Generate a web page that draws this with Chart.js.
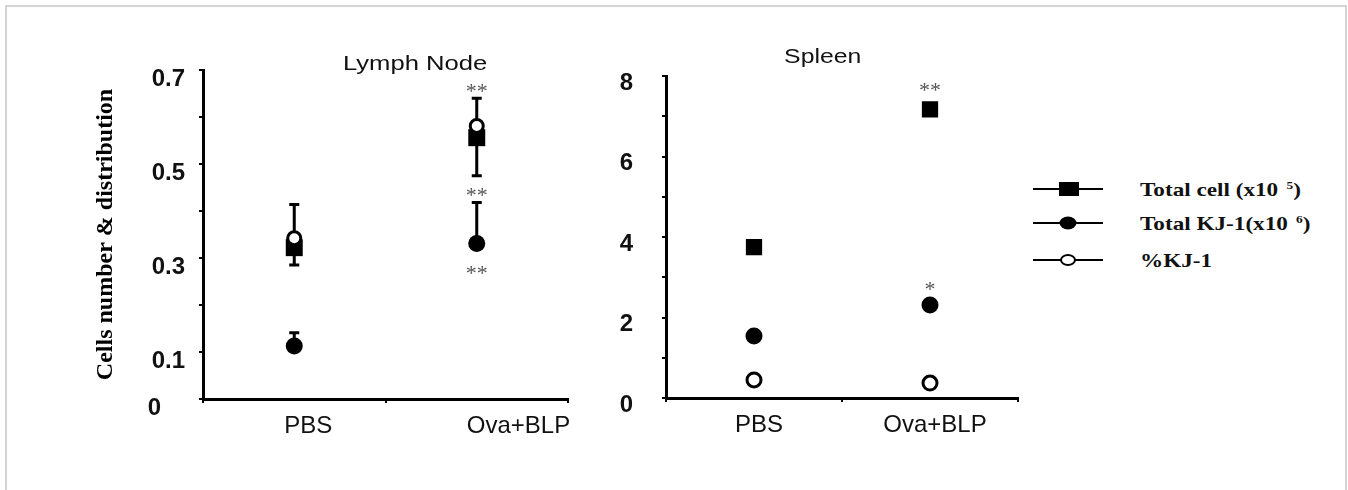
<!DOCTYPE html>
<html><head><meta charset="utf-8">
<script src="https://cdn.jsdelivr.net/npm/chart.js@4.4.1/dist/chart.umd.min.js"></script>
<style>
html,body{margin:0;padding:0;background:#fff;width:1348px;height:490px;overflow:hidden;position:relative;}
#frame{position:absolute;left:5px;top:5px;width:1342px;height:520px;border:2px solid #d4d4d4;border-bottom:none;box-sizing:border-box;}
canvas{position:absolute;top:0;}
#ln{left:85px;}
#sp{left:590px;}
.ttl{position:absolute;font-family:"Liberation Sans",Arial,sans-serif;font-size:21px;color:#111;white-space:nowrap;transform-origin:center center;}
#legend{position:absolute;left:1033px;top:0;}
.lrow{position:absolute;left:0;height:24px;white-space:nowrap;}
.lrow svg{position:absolute;left:0;top:0;}
.lrow span{position:absolute;left:107px;top:0;line-height:24px;font-family:"Liberation Serif","Times New Roman",serif;font-weight:bold;font-size:19px;color:#111;transform:scaleX(1.22);transform-origin:left center;}
.lrow sup{font-size:11px;vertical-align:7px;line-height:0;margin-left:2px;}
</style></head>
<body>
<div id="frame"></div>
<canvas id="ln" width="520" height="490" style="width:520px;height:490px"></canvas>
<canvas id="sp" width="440" height="490" style="width:440px;height:490px"></canvas>
<div class="ttl" id="t1" style="left:356px;top:51px;transform:scaleX(1.22);">Lymph Node</div>
<div class="ttl" id="t2" style="left:790px;top:44px;transform:scaleX(1.18);">Spleen</div>
<div id="legend"></div>
<script>
// ---- data ----
const categories = ['PBS', 'Ova+BLP'];
const seriesNames = ['Total cell (x10', 'Total KJ-1(x10', '%KJ-1'];
const seriesExponents = ['5', '6', ''];

const lnTotalCell   = [0.322, 0.556];
const lnTotalKJ1    = [0.113, 0.331];
const lnPctKJ1      = [0.342, 0.581];
const lnCellErrHigh = [0.414, 0.640];
const lnCellErrLow  = [0.285, 0.475];
const lnKJ1ErrHigh  = [0.141, 0.418];

const spTotalCell = [3.75, 7.17];
const spTotalKJ1  = [1.54, 2.31];
const spPctKJ1    = [0.45, 0.37];

const lnYTickLabels = [0, 0.1, 0.3, 0.5, 0.7];
const spYTickLabels = [0, 2, 4, 6, 8];

// significance marks: series index, category index, text, side
const lnStars = [
  {series: 0, cat: 1, text: '**', side: 'top'},
  {series: 1, cat: 1, text: '**', side: 'top'},
  {series: 1, cat: 1, text: '**', side: 'bottom'}
];
const spStars = [
  {series: 0, cat: 1, text: '**', side: 'top'},
  {series: 1, cat: 1, text: '*', side: 'top'}
];

// ---- plugins ----
const errorBarPlugin = {
  id: 'errorBars',
  beforeDatasetsDraw(chart, args, opts) {
    const ctx = chart.ctx, xs = chart.scales.x, ys = chart.scales.y;
    ctx.save();
    ctx.strokeStyle = opts.color || '#000';
    ctx.lineWidth = opts.lineWidth || 3;
    ctx.lineCap = 'butt';
    (opts.bars || []).forEach(b => {
      const vals = chart.data.datasets[b.dataset].data;
      vals.forEach((v, i) => {
        const x = xs.getPixelForValue(i);
        const y0 = ys.getPixelForValue(v);
        [b.high, b.low].forEach(arr => {
          if (!arr) return;
          const y1 = ys.getPixelForValue(arr[i]);
          ctx.beginPath();
          ctx.moveTo(x, y0); ctx.lineTo(x, y1);
          ctx.moveTo(x - opts.cap, y1); ctx.lineTo(x + opts.cap, y1);
          ctx.stroke();
        });
      });
    });
    ctx.restore();
  }
};

const starPlugin = {
  id: 'sigStars',
  afterDatasetsDraw(chart, args, opts) {
    const ctx = chart.ctx, xs = chart.scales.x, ys = chart.scales.y;
    const bars = (chart.options.plugins.errorBars && chart.options.plugins.errorBars.bars) || [];
    ctx.save();
    ctx.fillStyle = opts.color;
    ctx.font = opts.size + 'px ' + opts.family;
    ctx.textAlign = 'center';
    ctx.textBaseline = 'alphabetic';
    (opts.stars || []).forEach(s => {
      const ds = chart.data.datasets[s.series];
      const v = ds.data[s.cat];
      const x = xs.getPixelForValue(s.cat);
      const r = ds.pointRadius;
      let y;
      if (s.side === 'top') {
        let top = ys.getPixelForValue(v) - r;
        bars.filter(b => b.dataset === s.series && b.high).forEach(b => {
          top = Math.min(top, ys.getPixelForValue(b.high[s.cat]));
        });
        y = top - opts.gapTop;
      } else {
        y = ys.getPixelForValue(v) + r + opts.gapBottom;
      }
      ctx.fillText(s.text, x, y + opts.size * 0.52);
    });
    ctx.restore();
  }
};

// ---- helpers ----
const tickFont = {family: '"Liberation Sans", Arial, sans-serif', size: 24, weight: 'bold'};
const catFont = {family: '"Liberation Sans", Arial, sans-serif', size: 24};

function makeDatasets(cell, kj, pct, r) {
  return [
    {label: seriesNames[0], data: cell, showLine: false, pointStyle: 'rect', pointRadius: r.cell,
     pointBackgroundColor: '#000', pointBorderColor: '#000', pointBorderWidth: 0, order: 3},
    {label: seriesNames[1], data: kj, showLine: false, pointStyle: 'circle', pointRadius: r.kj,
     pointBackgroundColor: '#000', pointBorderColor: '#000', pointBorderWidth: 0, order: 2},
    {label: seriesNames[2], data: pct, showLine: false, pointStyle: 'circle', pointRadius: r.pct,
     pointBackgroundColor: '#fff', pointBorderColor: '#000', pointBorderWidth: 3, order: 1}
  ];
}

function labelFor(list, zeroPad) {
  return function (v) {
    const t = list.find(t => Math.abs(t - v) < 1e-6);
    if (t === undefined) return '';
    return t === 0 && zeroPad ? '0' + '\u2002'.repeat(zeroPad) : String(t);
  };
}

function xScale(align, labelOffset, height) {
  return {
    type: 'category', offset: true,
    grid: {display: true, drawOnChartArea: false, offset: true, tickLength: 4, color: '#000', lineWidth: 2},
    border: {display: true, color: '#000', width: 3},
    ticks: {font: catFont, color: '#111', padding: 9, align: align, labelOffset: labelOffset, maxRotation: 0, autoSkip: false},
    afterFit(s) { s.height = height; }
  };
}

const starOpts = {color: '#555', size: 22, family: '"Liberation Serif", "Times New Roman", serif', gapTop: 12, gapBottom: 17};

// ---- Lymph node chart ----
new Chart(document.getElementById('ln'), {
  type: 'line',
  data: {labels: categories, datasets: makeDatasets(lnTotalCell, lnTotalKJ1, lnPctKJ1, {cell: 12, kj: 8.5, pct: 6.5})},
  options: {
    responsive: false, animation: false, events: [],
    layout: {padding: {top: 70, right: 37, bottom: 0, left: 0}},
    plugins: {
      legend: {display: false}, tooltip: {enabled: false},
      errorBars: {color: '#000', lineWidth: 3, cap: 5, bars: [
        {dataset: 0, high: lnCellErrHigh, low: lnCellErrLow},
        {dataset: 1, high: lnKJ1ErrHigh}
      ]},
      sigStars: Object.assign({stars: lnStars}, starOpts)
    },
    scales: {
      x: xScale('start', -10, 91),
      y: {
        min: 0, max: 0.7,
        ticks: {stepSize: 0.1, autoSkip: false, callback: labelFor(lnYTickLabels, 2), labelOffset: 9, padding: 14, font: tickFont, color: '#111'},
        grid: {drawOnChartArea: false, tickLength: 4, color: '#000', lineWidth: 2},
        border: {display: true, color: '#000', width: 3},
        title: {display: true, text: 'Cells number & distribution', color: '#000',
                font: {family: '"Liberation Serif", "Times New Roman", serif', weight: 'bold', size: 24},
                padding: {top: 6, bottom: 0}},
        afterFit(s) { s.width = 118; }
      }
    }
  },
  plugins: [errorBarPlugin, starPlugin]
});

// ---- Spleen chart ----
new Chart(document.getElementById('sp'), {
  type: 'line',
  data: {labels: categories, datasets: makeDatasets(spTotalCell, spTotalKJ1, spPctKJ1, {cell: 11.5, kj: 8.5, pct: 7})},
  options: {
    responsive: false, animation: false, events: [],
    layout: {padding: {top: 76, right: 12, bottom: 0, left: 0}},
    plugins: {
      legend: {display: false}, tooltip: {enabled: false},
      errorBars: {bars: [], cap: 5},
      sigStars: Object.assign({stars: spStars}, starOpts)
    },
    scales: {
      x: xScale('center', 5, 92),
      y: {
        min: 0, max: 8,
        ticks: {stepSize: 1, autoSkip: false, callback: labelFor(spYTickLabels, 0), labelOffset: 7, padding: 29, font: tickFont, color: '#111'},
        grid: {drawOnChartArea: false, tickLength: 4, color: '#000', lineWidth: 2},
        border: {display: true, color: '#000', width: 3},
        afterFit(s) { s.width = 76; }
      }
    }
  },
  plugins: [errorBarPlugin, starPlugin]
});

// ---- legend ----
const legendIcons = [
  '<rect x="26" y="4" width="20" height="14" fill="#000"/>',
  '<ellipse cx="35" cy="11" rx="8.5" ry="6.5" fill="#000"/>',
  '<ellipse cx="35" cy="11" rx="7" ry="5" fill="#fff" stroke="#000" stroke-width="2"/>'
];
const legendTops = [178, 212, 249];
const legend = document.getElementById('legend');
seriesNames.forEach((n, i) => {
  const row = document.createElement('div');
  row.className = 'lrow';
  row.style.top = legendTops[i] + 'px';
  const sup = seriesExponents[i] ? '&nbsp;<sup>' + seriesExponents[i] + '</sup>)' : '';
  row.innerHTML = '<svg width="72" height="22"><line x1="0" y1="11" x2="70" y2="11" stroke="#000" stroke-width="2"/>' +
    legendIcons[i] + '</svg><span>' + n + sup + '</span>';
  legend.appendChild(row);
});
</script>
</body></html>
